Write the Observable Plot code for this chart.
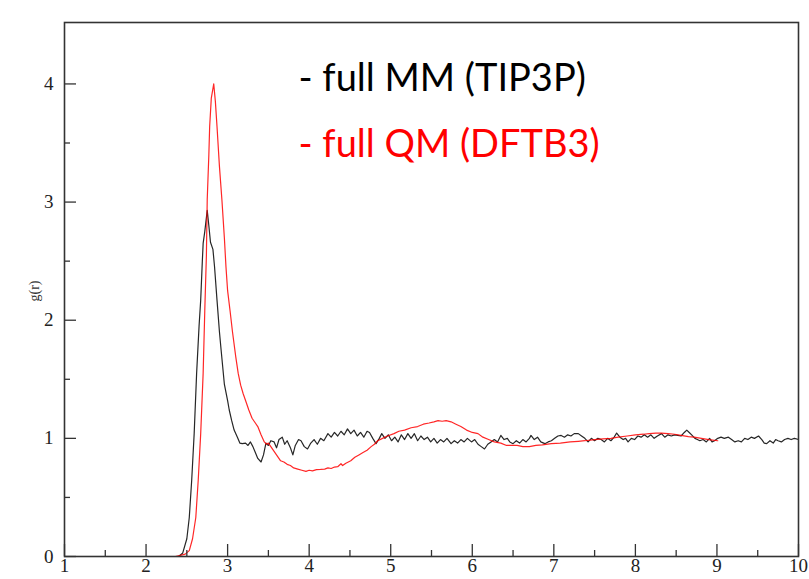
<!DOCTYPE html>
<html><head><meta charset="utf-8">
<script src="https://cdn.jsdelivr.net/npm/d3@7"></script>
<script src="https://cdn.jsdelivr.net/npm/@observablehq/plot@0.6"></script>
<style>body{margin:0;background:#fff}#chart svg{display:block}</style>
</head><body><div id="chart"></div>
<script>
// g(r) full MM (TIP3P) — [r, g]
const tip3pPoints = [
[1.0,0],[2.30,0],[2.40,0.0],[2.45,0.03],[2.50,0.15],[2.53,0.33],[2.56,0.65],[2.59,1.04],[2.62,1.55],[2.65,1.95],[2.67,2.17],[2.69,2.50],[2.70,2.65],[2.72,2.75],[2.75,2.93],[2.77,2.80],[2.79,2.66],[2.82,2.60],[2.84,2.45],[2.87,2.17],[2.90,1.90],[2.92,1.75],[2.96,1.46],[3.00,1.32],[3.02,1.24],[3.05,1.15],[3.08,1.07],[3.12,1.01],[3.15,0.96],[3.18,0.955],
[3.22,0.96],[3.25,0.94],[3.28,0.97],[3.31,0.93],[3.34,0.88],[3.37,0.83],[3.41,0.80],[3.44,0.86],[3.47,0.96],[3.50,0.94],[3.53,0.98],[3.57,0.97],[3.60,0.92],[3.63,0.99],[3.67,1.01],[3.70,0.95],[3.73,0.98],[3.77,0.92],[3.80,0.86],[3.83,0.94],[3.87,0.99],[3.90,0.98],[3.94,0.93],[3.98,0.91],
[4.02,0.96],[4.06,0.99],[4.10,0.95],[4.14,1.00],[4.18,0.98],[4.23,1.04],[4.27,1.01],[4.31,1.05],[4.35,1.02],[4.39,1.06],[4.43,1.03],[4.47,1.08],[4.51,1.04],[4.55,1.07],[4.59,1.02],[4.63,1.05],[4.67,1.01],[4.71,1.06],[4.74,1.05],[4.78,1.00],[4.82,0.955],[4.86,1.00],[4.89,1.04],[4.93,1.00],[4.97,1.03],
[5.01,0.98],[5.05,1.01],[5.09,0.97],[5.13,1.03],[5.17,0.99],[5.21,1.04],[5.25,1.00],[5.29,1.04],[5.33,0.98],[5.37,1.02],[5.41,0.99],[5.45,1.01],[5.49,0.97],[5.53,1.00],[5.57,0.96],[5.61,0.99],[5.65,0.97],[5.69,1.00],[5.74,0.955],[5.78,0.98],[5.82,0.96],[5.86,0.99],[5.90,0.97],[5.94,1.00],[5.99,0.97],
[6.03,0.99],[6.07,0.95],[6.11,0.93],[6.15,0.91],[6.19,0.95],[6.23,0.97],[6.27,0.99],[6.31,0.97],[6.35,1.025],[6.39,0.99],[6.43,1.00],[6.46,0.97],[6.50,0.955],[6.54,0.98],[6.58,0.96],[6.62,0.99],[6.66,0.97],[6.70,1.00],[6.72,1.025],[6.76,0.99],[6.80,1.01],[6.84,0.97],[6.89,0.955],[6.93,0.97],[6.97,0.98],
[7.01,1.00],[7.05,1.02],[7.09,1.025],[7.13,1.01],[7.17,1.03],[7.21,1.02],[7.25,1.04],[7.30,1.04],[7.34,1.02],[7.38,1.00],[7.42,0.97],[7.46,1.00],[7.50,0.98],[7.54,1.00],[7.58,0.99],[7.62,0.97],[7.66,1.00],[7.70,0.98],[7.74,1.01],[7.77,1.045],[7.81,1.01],[7.85,0.99],[7.88,1.00],[7.91,0.97],[7.95,1.00],[7.99,0.99],
[8.03,1.02],[8.07,1.01],[8.11,1.03],[8.15,1.01],[8.19,1.03],[8.23,1.00],[8.27,1.02],[8.32,1.04],[8.36,1.01],[8.40,1.03],[8.44,1.02],[8.48,1.03],[8.52,1.025],[8.56,1.02],[8.60,1.05],[8.63,1.07],[8.66,1.05],[8.69,1.03],[8.73,1.00],[8.76,0.99],[8.79,0.98],[8.83,0.99],[8.87,0.97],[8.91,1.00],[8.94,0.97],[8.97,0.98],
[9.01,1.00],[9.05,1.01],[9.09,1.00],[9.14,1.01],[9.18,0.99],[9.22,0.97],[9.26,0.98],[9.30,0.97],[9.34,1.00],[9.38,0.99],[9.42,1.01],[9.46,1.00],[9.51,1.02],[9.55,0.99],[9.58,0.96],[9.61,0.955],[9.65,0.98],[9.69,0.96],[9.72,0.99],[9.75,0.98],[9.79,0.97],[9.83,0.99],[9.87,1.00],[9.91,0.99],[9.95,1.00],[10.0,0.99]
];

// g(r) full QM (DFTB3) — [r, g]
const dftb3Points = [
[1.0,0],[2.30,0],[2.36,0.0],[2.42,0.01],[2.48,0.02],[2.53,0.05],[2.57,0.15],[2.61,0.33],[2.64,0.65],[2.67,1.04],[2.70,1.55],[2.72,2.08],[2.74,2.55],[2.75,3.02],[2.77,3.40],[2.78,3.64],[2.80,3.88],[2.83,4.00],[2.85,3.85],[2.87,3.64],[2.90,3.30],[2.93,3.02],[2.96,2.70],[2.98,2.45],[3.00,2.25],[3.03,2.08],[3.06,1.90],[3.10,1.69],[3.13,1.55],[3.16,1.45],[3.19,1.38],[3.22,1.32],[3.26,1.24],[3.30,1.17],[3.34,1.13],[3.37,1.10],[3.41,1.03],[3.45,0.97],[3.48,0.95],[3.50,0.96],[3.53,0.93],[3.57,0.89],[3.61,0.85],[3.65,0.81],[3.69,0.80],[3.73,0.78],[3.77,0.77],[3.81,0.75],[3.86,0.74],[3.91,0.73],[3.96,0.72],
[4.00,0.73],[4.04,0.725],[4.09,0.735],[4.14,0.737],[4.19,0.74],[4.23,0.75],[4.27,0.745],[4.31,0.757],[4.35,0.76],[4.39,0.785],[4.41,0.77],[4.45,0.79],[4.51,0.81],[4.56,0.84],[4.61,0.86],[4.66,0.88],[4.71,0.90],[4.76,0.93],[4.80,0.95],[4.84,0.98],[4.90,1.00],[4.96,1.02],
[5.04,1.04],[5.10,1.06],[5.17,1.07],[5.25,1.09],[5.33,1.10],[5.40,1.12],[5.47,1.13],[5.53,1.14],[5.58,1.15],[5.63,1.145],[5.68,1.15],[5.74,1.14],[5.80,1.12],[5.86,1.10],[5.93,1.07],
[6.00,1.05],[6.07,1.04],[6.13,1.01],[6.20,0.99],[6.27,0.97],[6.35,0.96],[6.42,0.94],[6.48,0.94],[6.55,0.94],[6.62,0.93],[6.70,0.93],[6.78,0.94],[6.86,0.945],[6.97,0.955],
[7.08,0.96],[7.20,0.97],[7.30,0.975],[7.38,0.98],[7.50,0.99],[7.60,0.995],[7.70,1.00],[7.79,1.01],[7.90,1.02],
[8.00,1.03],[8.10,1.035],[8.17,1.04],[8.25,1.045],[8.32,1.045],[8.40,1.04],[8.48,1.035],[8.56,1.025],[8.65,1.015],[8.72,1.01],[8.81,1.00],[8.90,0.99],[9.01,0.98]
];

const xMajorTicks = [1,2,3,4,5,6,7,8,9,10];
const xMinorTicks = [1.5,2.5,3.5,4.5,5.5,6.5,7.5,8.5,9.5];
const yMajorTicks = [0,1,2,3,4];
const yMinorTicks = [0.5,1.5,2.5,3.5];
const yLabel = "g(r)";
const legendLabels = ["- full MM (TIP3P)", "- full QM (DFTB3)"];
const seriesColors = ["#000000", "#ff0000"];

const W = 809, H = 579;
const mL = 64, mR = 11, mT = 22, mB = 23;
const fw = W - mL - mR, fh = H - mT - mB;

const mm = tip3pPoints.map(([r, g]) => ({r, g}));
const qm = dftb3Points.map(([r, g]) => ({r, g}));

const chart = Plot.plot({
  width: W, height: H,
  marginLeft: mL, marginRight: mR, marginTop: mT, marginBottom: mB,
  style: {fontFamily: "'Liberation Serif', 'DejaVu Serif', serif", fontSize: "19px", color: "#222", background: "#fff"},
  x: {domain: [1, 10]},
  y: {domain: [0, 4.52]},
  marks: [
    Plot.line(mm, {x: "r", y: "g", stroke: seriesColors[0], strokeWidth: 1.2, strokeOpacity: 0.85}),
    Plot.line(qm, {x: "r", y: "g", stroke: seriesColors[1], strokeWidth: 1.2, strokeOpacity: 0.85}),
    Plot.tickX(xMajorTicks, {x: d => d, insetTop: fh - 12, stroke: "#333", strokeWidth: 1.3}),
    Plot.tickX(xMinorTicks, {x: d => d, insetTop: fh - 6, stroke: "#333", strokeWidth: 1.3}),
    Plot.tickY(yMajorTicks, {y: d => d, insetRight: fw - 12, stroke: "#333", strokeWidth: 1.3}),
    Plot.tickY(yMinorTicks, {y: d => d, insetRight: fw - 6, stroke: "#333", strokeWidth: 1.3}),
    Plot.axisX({ticks: xMajorTicks, tickSize: 0, tickPadding: 2, tickFormat: d => String(d), label: null, fill: "#222"}),
    Plot.axisY({ticks: yMajorTicks, tickSize: 0, tickPadding: 11, tickFormat: d => String(d), label: null, fill: "#222"}),
    Plot.frame({stroke: "#333", strokeWidth: 1.6}),
    Plot.text([yLabel], {text: d => d, frameAnchor: "left", dx: -30, dy: 12, rotate: -90, fontSize: 14, fill: "#333"}),
    Plot.text([legendLabels[0]], {text: d => d, frameAnchor: "top-left", textAnchor: "start", lineAnchor: "bottom", dx: 234, dy: 68, fontFamily: "Lato, 'Open Sans', sans-serif", fontSize: 38, fill: seriesColors[0]}),
    Plot.text([legendLabels[1]], {text: d => d, frameAnchor: "top-left", textAnchor: "start", lineAnchor: "bottom", dx: 234, dy: 134, fontFamily: "Lato, 'Open Sans', sans-serif", fontSize: 38, fill: seriesColors[1]})
  ]
});
document.getElementById("chart").append(chart);
</script>
</body></html>
